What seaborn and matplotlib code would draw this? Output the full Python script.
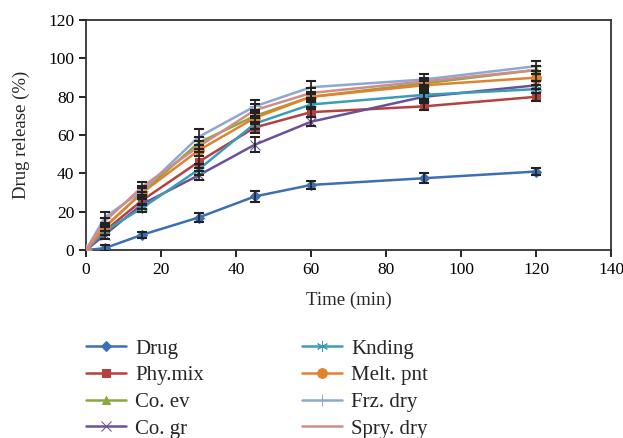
import pandas as pd
import matplotlib
matplotlib.use('Agg')
import matplotlib.pyplot as plt
import seaborn as sns

# release data
time = [0, 5, 15, 30, 45, 60, 90, 120]
names = ['Drug', 'Phy.mix', 'Co. ev', 'Co. gr', 'Knding', 'Melt. pnt', 'Frz. dry', 'Spry. dry']

drug = [0, 1, 8, 17, 28, 34, 37.5, 41]
phy_mix = [0, 10, 26, 46, 64, 72, 75, 80]
co_ev = [0, 12, 30, 56, 70, 80, 87, 94]
co_gr = [0, 8, 24, 39, 55, 67, 80, 86]
knding = [0, 10, 22, 42, 66, 76, 81, 84]
melt_pnt = [0, 12, 30, 52, 69, 80, 86, 90]
frz_dry = [0, 17, 31, 59, 75, 85, 89, 96]
spry_dry = [0, 15, 33, 54, 73, 82, 88, 94]

drug_err = [0, 1.5, 1.5, 2.5, 3, 2, 2.5, 2]
phy_mix_err = [0, 2, 2.5, 3, 3, 2.5, 2, 2]
co_ev_err = [0, 2, 2.5, 3, 3, 2.5, 2, 2]
co_gr_err = [0, 2, 2.5, 2.5, 4, 2.5, 2, 2]
knding_err = [0, 2, 2, 3, 3, 2.5, 2, 2]
melt_pnt_err = [0, 2, 2.5, 3, 3, 2.5, 2, 2]
frz_dry_err = [0, 3, 2.5, 4, 3.5, 3.5, 3, 2.5]
spry_dry_err = [0, 2, 2.5, 3, 3, 2.5, 2, 2]

values = [drug, phy_mix, co_ev, co_gr, knding, melt_pnt, frz_dry, spry_dry]
errors = [drug_err, phy_mix_err, co_ev_err, co_gr_err, knding_err, melt_pnt_err, frz_dry_err, spry_dry_err]
colors = ['#3d6fb3', '#b5403f', '#89a83e', '#6b5198', '#3b9db5', '#e0822f', '#8fa8d0', '#d08c8a']
markers = ['D', 's', '^', 'x', (6, 2, 0), 'o', '+', '']
msizes = [5, 6, 6, 7, 8, 7, 9, 0]

sns.set_style('ticks')
plt.rcParams['font.family'] = ['Liberation Serif', 'DejaVu Serif']

fig = plt.figure(figsize=(6.23, 4.38), dpi=100)
ax = fig.add_axes([0.138, 0.429, 0.843, 0.525])

for n in range(len(names)):
    df = pd.DataFrame({'time': time, 'release': values[n]})
    sns.lineplot(ax=ax, data=df, x='time', y='release', color=colors[n],
                 marker=markers[n] if markers[n] != '' else None,
                 markersize=msizes[n], markeredgecolor=colors[n], linewidth=1.8,
                 label=names[n], zorder=3)
    ax.errorbar(time[1:], values[n][1:], yerr=errors[n][1:], fmt='none', ecolor='#222222',
                elinewidth=1.2, capsize=3.5, capthick=1.5, zorder=4)

ax.set_xlim(0, 140)
ax.set_ylim(0, 120)
ax.set_xticks(range(0, 141, 20))
ax.set_yticks(range(0, 121, 20))
ax.tick_params(labelsize=12.5, direction='out', length=5, width=1.2, colors='black')
for s in ax.spines.values():
    s.set_linewidth(1.3)
    s.set_color('#333333')
ax.set_xlabel('Time (min)', fontsize=13.5, labelpad=10)
ax.set_ylabel('Drug release (%)', fontsize=13.5, labelpad=13)

handles, labels = ax.get_legend_handles_labels()
ax.get_legend().remove()
leg_opts = dict(loc='upper left', frameon=False, fontsize=15, handlelength=1.9,
                handletextpad=0.45, labelspacing=0.34, borderpad=0, borderaxespad=0)
fig.legend(handles[:4], labels[:4], bbox_to_anchor=(0.138, 0.226), **leg_opts)
fig.legend(handles[4:8], labels[4:8], bbox_to_anchor=(0.485, 0.226), **leg_opts)

plt.savefig('out.png', dpi=100)
